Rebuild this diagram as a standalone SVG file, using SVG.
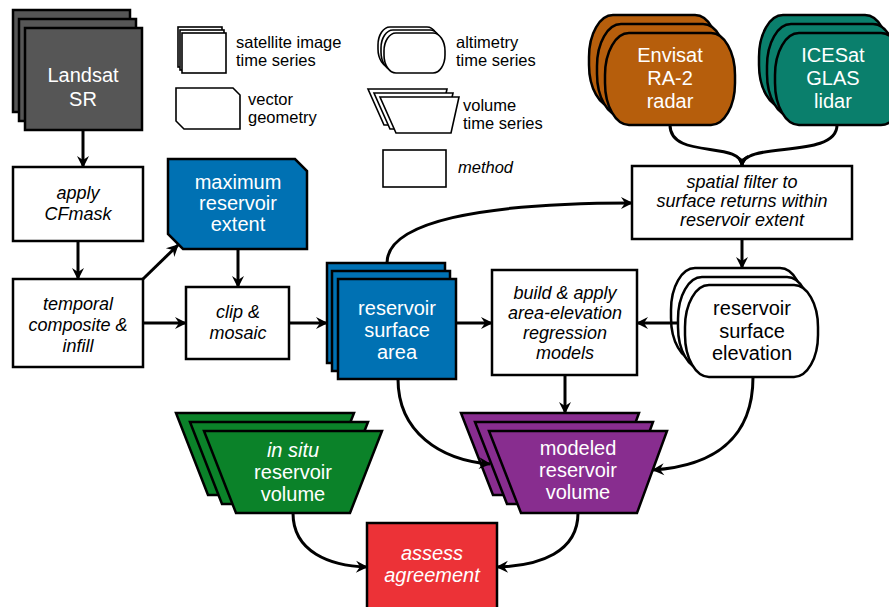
<svg xmlns="http://www.w3.org/2000/svg" width="889" height="607" viewBox="0 0 889 607">
<style>
.n{stroke:#000;stroke-width:2.5;stroke-linejoin:miter}
.w{fill:#fff}
.lg{fill:#fff;stroke:#000;stroke-width:1.6}
.t{font-family:"Liberation Sans",Arial,sans-serif;font-size:20px;text-anchor:middle;fill:#fff}
.tb{font-family:"Liberation Sans",Arial,sans-serif;font-size:20px;text-anchor:middle;fill:#000}
.m{font-family:"Liberation Sans",Arial,sans-serif;font-size:18px;font-style:italic;text-anchor:middle;fill:#000}
.l{font-family:"Liberation Sans",Arial,sans-serif;font-size:16.5px;fill:#000}
.c path{fill:none;stroke:#000;stroke-width:3;marker-end:url(#ah)}
</style>
<defs>
<marker id="ah" viewBox="0 0 14 14" markerWidth="14" markerHeight="14" refX="12" refY="7" orient="auto" markerUnits="userSpaceOnUse">
<path d="M1,1 L13,7 L1,13 L5,7 Z" fill="#000"/>
</marker>
</defs>

<g id="legend">
<rect class="lg" x="178" y="27" width="44" height="40"/>
<rect class="lg" x="180" y="30" width="44" height="40"/>
<rect class="lg" x="182" y="33" width="44" height="40"/>
<text class="l" x="236" y="48">satellite image</text>
<text class="l" x="236" y="66">time series</text>
<path class="lg" d="M176,88 H233 L240,95 V129 H184 L176,121 Z"/>
<text class="l" x="248" y="105">vector</text>
<text class="l" x="248" y="123">geometry</text>
<rect class="lg" x="378" y="27" width="61" height="40" rx="12" ry="18"/>
<rect class="lg" x="381" y="30" width="61" height="40" rx="12" ry="18"/>
<rect class="lg" x="384" y="33" width="61" height="40" rx="12" ry="18"/>
<text class="l" x="456" y="48">altimetry</text>
<text class="l" x="456" y="66">time series</text>
<path class="lg" d="M368,89 H447 L439,125 H384 Z"/>
<path class="lg" d="M374,93 H453 L445,129 H390 Z"/>
<path class="lg" d="M380,97 H459 L451,133 H396 Z"/>
<text class="l" x="463" y="111">volume</text>
<text class="l" x="463" y="129">time series</text>
<rect class="lg" x="383" y="150" width="63" height="37"/>
<text class="l" x="458" y="173" font-style="italic">method</text>
</g>

<g id="landsat">
<rect class="n" fill="#565656" x="13" y="10" width="117" height="102"/>
<rect class="n" fill="#565656" x="19" y="19" width="117" height="102"/>
<rect class="n" fill="#565656" x="25" y="28" width="117" height="102"/>
<text class="t" x="83" y="82" fill="#eee" font-size="21">Landsat</text>
<text class="t" x="83" y="106" fill="#eee" font-size="21">SR</text>
</g>

<g id="cfmask">
<rect class="n w" x="13" y="167" width="130" height="74"/>
<text class="m" x="78" y="199">apply</text>
<text class="m" x="78" y="220">CFmask</text>
</g>

<g id="temporal">
<rect class="n w" x="13" y="279" width="130" height="88"/>
<text class="m" x="78" y="310">temporal</text>
<text class="m" x="78" y="331">composite &amp;</text>
<text class="m" x="78" y="352">infill</text>
</g>

<g id="maxextent">
<path class="n" fill="#0071B3" d="M168,159 H295 L307,171 V249 H183 L168,234 Z"/>
<text class="t" x="238" y="189">maximum</text>
<text class="t" x="238" y="210">reservoir</text>
<text class="t" x="238" y="231">extent</text>
</g>

<g id="clip">
<rect class="n w" x="186" y="287" width="103" height="72"/>
<text class="m" x="238" y="318">clip &amp;</text>
<text class="m" x="238" y="339">mosaic</text>
</g>

<g id="area">
<rect class="n" fill="#0071B3" x="327" y="263" width="118" height="100"/>
<rect class="n" fill="#0071B3" x="332" y="271" width="118" height="100"/>
<rect class="n" fill="#0071B3" x="338" y="279" width="118" height="100"/>
<text class="t" x="397" y="315">reservoir</text>
<text class="t" x="397" y="337">surface</text>
<text class="t" x="397" y="359">area</text>
</g>

<g id="build">
<rect class="n w" x="492" y="270" width="145" height="105"/>
<text class="m" x="565" y="299">build &amp; apply</text>
<text class="m" x="565" y="319">area-elevation</text>
<text class="m" x="565" y="339">regression</text>
<text class="m" x="565" y="359">models</text>
</g>

<g id="envisat">
<rect class="n" fill="#B65E0C" x="589" y="15" width="130" height="92" rx="24" ry="42"/>
<rect class="n" fill="#B65E0C" x="597" y="24" width="130" height="92" rx="24" ry="42"/>
<rect class="n" fill="#B65E0C" x="605" y="33" width="130" height="92" rx="24" ry="42"/>
<text class="t" x="670" y="62">Envisat</text>
<text class="t" x="670" y="85">RA-2</text>
<text class="t" x="670" y="108">radar</text>
</g>

<g id="icesat">
<rect class="n" fill="#0A7F6C" x="759" y="15" width="130" height="92" rx="24" ry="42"/>
<rect class="n" fill="#0A7F6C" x="767" y="24" width="130" height="92" rx="24" ry="42"/>
<rect class="n" fill="#0A7F6C" x="775" y="33" width="130" height="92" rx="24" ry="42"/>
<text class="t" x="833" y="62">ICESat</text>
<text class="t" x="833" y="85">GLAS</text>
<text class="t" x="833" y="108">lidar</text>
</g>

<g id="spatial">
<rect class="n w" x="632" y="166" width="220" height="73"/>
<text class="m" x="742" y="188" font-size="17.5">spatial filter to</text>
<text class="m" x="742" y="207" font-size="17.5">surface returns within</text>
<text class="m" x="742" y="226" font-size="17.5">reservoir extent</text>
</g>

<g id="elevation">
<rect class="n w" x="671" y="268" width="133" height="92" rx="24" ry="42"/>
<rect class="n w" x="678" y="277" width="133" height="92" rx="24" ry="42"/>
<rect class="n w" x="685" y="285" width="133" height="92" rx="24" ry="42"/>
<text class="tb" x="752" y="315">reservoir</text>
<text class="tb" x="752" y="338">surface</text>
<text class="tb" x="752" y="360">elevation</text>
</g>

<g id="insitu">
<path class="n" fill="#0B8229" d="M176,413 H354 L322,495 H208 Z"/>
<path class="n" fill="#0B8229" d="M190,422 H368 L336,504 H222 Z"/>
<path class="n" fill="#0B8229" d="M204,431 H382 L350,513 H236 Z"/>
<text class="t" x="293" y="457" font-style="italic">in situ</text>
<text class="t" x="293" y="479">reservoir</text>
<text class="t" x="293" y="501">volume</text>
</g>

<g id="modeled">
<path class="n" fill="#882D8F" d="M461,413 H639 L609,495 H493 Z"/>
<path class="n" fill="#882D8F" d="M475,422 H653 L623,504 H507 Z"/>
<path class="n" fill="#882D8F" d="M489,431 H667 L637,513 H521 Z"/>
<text class="t" x="578" y="455">modeled</text>
<text class="t" x="578" y="477">reservoir</text>
<text class="t" x="578" y="499">volume</text>
</g>

<g id="assess">
<rect class="n" fill="#EC3237" x="367" y="523" width="130" height="90"/>
<text class="t" x="432" y="560" font-style="italic">assess</text>
<text class="t" x="432" y="582" font-style="italic">agreement</text>
</g>

<g class="c" id="connectors">
<path d="M83,131 V167"/>
<path d="M78,241 V279"/>
<path d="M143,279 L178,245"/>
<path d="M238,249 V287"/>
<path d="M143,323 H186"/>
<path d="M289,323 H327"/>
<path d="M456,323 H492"/>
<path d="M387,263 C387,222 480,203 632,203"/>
<path d="M670,125 C670,160 742,140 742,166"/>
<path d="M837,125 C837,160 742,140 742,166"/>
<path d="M742,239 V268"/>
<path d="M677,323 H637"/>
<path d="M565,375 V413"/>
<path d="M398,379 C398,432 440,460 490,464"/>
<path d="M753,377 C753,440 712,466 653,470"/>
<path d="M293,513 C293,552 330,566 367,567"/>
<path d="M578,513 C578,552 540,566 497,567"/>
</g>
</svg>
